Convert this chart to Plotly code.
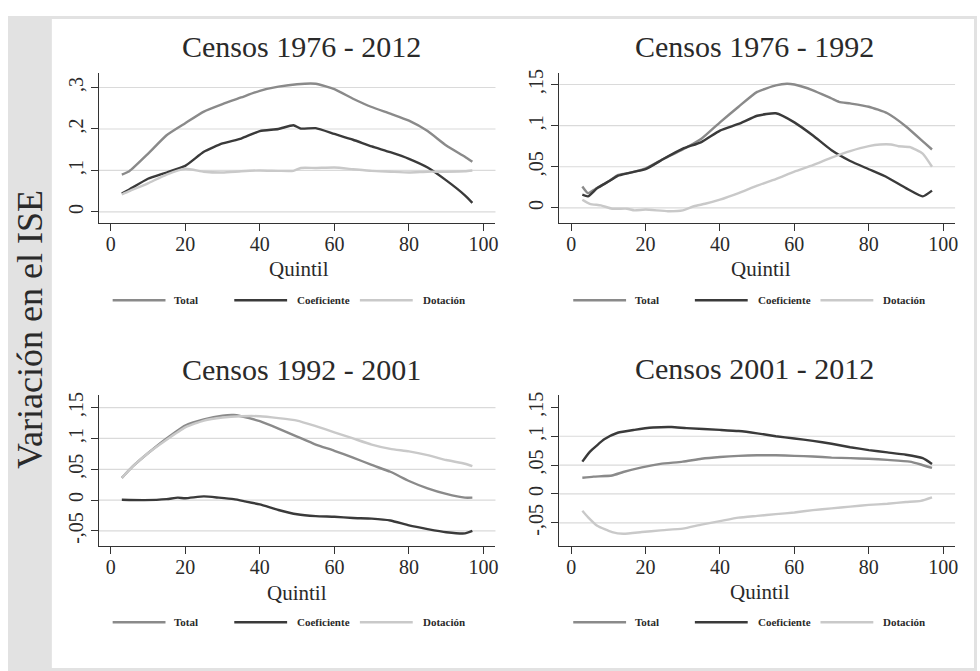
import plotly.graph_objects as go

W, H = 980, 671

# ---------------- data ----------------
panel_titles = ["Censos 1976 - 2012", "Censos 1976 - 1992",
                "Censos 1992 - 2001", "Censos 2001 - 2012"]
series_names = ["Total", "Coeficiente", "Dotación"]
series_colors = ["#8a8a8a", "#3a3a3a", "#c9c9c9"]

x_ticks = [0, 20, 40, 60, 80, 100]

# Censos 1976 - 2012
p1_total_q = [3, 5, 10, 15, 20, 25, 30, 35, 40, 45, 50, 55, 60, 65, 70, 75, 80, 85, 90, 95, 97]
p1_total = [.090, .098, .140, .185, .214, .242, .260, .276, .292, .302, .308, .309, .296,
            .273, .253, .237, .220, .195, .160, .133, .121]
p1_coef_q = [3, 5, 10, 15, 20, 25, 30, 35, 40, 45, 49, 51, 55, 60, 65, 70, 75, 80, 85, 90, 95, 97]
p1_coef = [.044, .054, .080, .095, .111, .145, .165, .177, .195, .200, .209, .201, .202, .188,
           .174, .158, .144, .128, .107, .076, .040, .022]
p1_dot_q = [3, 5, 10, 15, 20, 25, 30, 35, 40, 45, 49, 51, 55, 60, 65, 70, 75, 80, 85, 90, 95, 97]
p1_dot = [.042, .050, .069, .090, .104, .097, .095, .098, .100, .099, .099, .106, .106, .107,
          .103, .099, .097, .095, .097, .097, .098, .100]

# Censos 1976 - 1992
p2_total_q = [3, 4.5, 6.5, 10, 12.5, 15, 20, 25, 30, 35, 40, 45, 50, 55, 58, 60, 65, 70, 72,
              75, 80, 85, 90, 95, 97]
p2_total = [.026, .018, .023, .032, .040, .042, .048, .060, .071, .084, .104, .123, .141, .149,
            .151, .150, .143, .133, .129, .127, .123, .115, .099, .079, .071]
p2_coef_q = [3, 4.5, 7, 10, 12.5, 15, 20, 25, 30, 35, 40, 45, 50, 55, 60, 65, 70, 75, 80, 85,
             90, 94.5, 97]
p2_coef = [.016, .014, .024, .032, .039, .042, .047, .060, .072, .080, .094, .102, .112, .115,
           .104, .088, .070, .057, .047, .037, .024, .014, .021]
p2_dot_q = [3, 5, 8, 11, 15, 17, 20, 26, 30, 33, 36, 40, 45, 50, 55, 60, 65, 70, 75, 80, 83,
            86, 88, 91, 94.5, 97]
p2_dot = [.010, .005, .003, -.001, -.001, -.003, -.002, -.004, -.003, .002, .005, .010, .018,
          .027, .035, .044, .052, .061, .069, .075, .077, .077, .075, .074, .066, .050]

# Censos 1992 - 2001
p3_total_q = [3, 6, 10, 15, 20, 25, 30, 33, 35, 40, 45, 50, 55, 60, 65, 70, 75, 80, 85, 90, 95, 97]
p3_total = [.036, .055, .076, .100, .121, .131, .137, .138, .136, .128, .116, .103, .090, .080,
            .069, .057, .046, .031, .019, .010, .004, .004]
p3_coef_q = [3, 9, 15, 18, 20, 25, 29, 33, 36, 40, 45, 50, 55, 60, 65, 70, 75, 80, 85, 90, 95, 97]
p3_coef = [.0005, 0, .0016, .004, .003, .006, .004, .0015, -.002, -.007, -.016, -.023, -.026,
           -.027, -.029, -.030, -.033, -.041, -.047, -.052, -.054, -.050]
p3_dot_q = [3, 6, 10, 15, 20, 25, 30, 35, 40, 45, 50, 55, 60, 65, 70, 75, 80, 85, 90, 95, 97]
p3_dot = [.036, .055, .076, .098, .118, .129, .134, .136, .136, .133, .129, .120, .110, .100,
          .090, .083, .079, .073, .065, .059, .055]

# Censos 2001 - 2012
p4_total_q = [3, 6, 11, 14, 19, 24, 30, 35, 40, 45, 50, 55, 60, 65, 70, 75, 80, 85, 91, 94, 97]
p4_total = [.028, .030, .032, .038, .046, .052, .056, .061, .064, .066, .067, .067, .066, .065,
            .063, .062, .061, .059, .056, .051, .045]
p4_coef_q = [3, 5, 9, 12.5, 17, 22, 27, 31, 40, 45, 50, 55, 60, 65, 70, 75, 80, 85, 90, 94.5, 97]
p4_coef = [.056, .073, .095, .106, .111, .115, .116, .114, .111, .109, .105, .100, .096, .092,
           .087, .081, .076, .072, .068, .062, .052]
p4_dot_q = [3, 4.5, 7, 11, 14, 19, 24, 30, 35, 40, 45, 50, 55, 60, 65, 70, 75, 80, 85, 90, 94, 97]
p4_dot = [-.029, -.040, -.055, -.066, -.069, -.066, -.063, -.060, -.053, -.047, -.041, -.038,
          -.035, -.032, -.028, -.025, -.022, -.019, -.017, -.014, -.012, -.006]

panel_series = [
    [(p1_total_q, p1_total), (p1_coef_q, p1_coef), (p1_dot_q, p1_dot)],
    [(p2_total_q, p2_total), (p2_coef_q, p2_coef), (p2_dot_q, p2_dot)],
    [(p3_total_q, p3_total), (p3_coef_q, p3_coef), (p3_dot_q, p3_dot)],
    [(p4_total_q, p4_total), (p4_coef_q, p4_coef), (p4_dot_q, p4_dot)],
]

y_tickvals = [
    [0, .1, .2, .3],
    [0, .05, .1, .15],
    [-.05, 0, .05, .1, .15],
    [-.05, 0, .05, .1, .15],
]
y_ticktext = [
    ["0", ",1", ",2", ",3"],
    ["0", ",05", ",1", ",15"],
    ["-,05", "0", ",05", ",1", ",15"],
    ["-,05", "0", ",05", ",1", ",15"],
]
y_gridvals = [
    [0, .1, .2, .3],
    [0, .05, .1, .15],
    [-.05, 0, .05, .1, .15],
    [-.05, 0, .05, .1],
]
y_ranges = [[-0.026, 0.336], [-0.018, 0.1645], [-0.074, 0.171], [-0.0897, 0.172]]
x_range = [-3.2, 103.2]

# ---------------- layout geometry (pixels) ----------------
# plot boxes: (left, right, top, bottom)
boxes = [(99, 497, 69, 220), (561, 958, 69, 220),
         (99, 497, 393, 545), (561, 958, 393, 545)]
title_pos = [(302, 43), (757, 43), (302, 368), (757, 367)]
quintil_pos = [(300, 267), (763, 267), (298, 593), (762, 592)]
legend_y = [298, 298, 622, 622]
# legend sample lines and labels, offsets from the left of each plot box
legend_lines = [(14, 67), (136, 189), (262, 315)]
legend_text_x = [74, 197, 323]

SERIF = "Liberation Serif, Times New Roman, serif"
AXIS_COLOR = "#333333"
TEXT_COLOR = "#2a2a2a"
GRID_COLOR = "#dadada"


def px(x):
    return x / W


def py(y):
    return 1 - y / H


fig = go.Figure()
shapes = []
annotations = []

# frame: grey border strips around a white panel
shapes.append(dict(type="rect", xref="paper", yref="paper", x0=px(8), x1=px(980),
                   y0=py(671), y1=py(12), fillcolor="#e2e2e2", line=dict(width=0),
                   layer="below"))
shapes.append(dict(type="rect", xref="paper", yref="paper", x0=px(52), x1=px(977),
                   y0=py(668), y1=py(15), fillcolor="#ffffff", line=dict(width=0),
                   layer="below"))

layout_axes = {}
for i in range(4):
    n = "" if i == 0 else str(i + 1)
    xa, ya = "x" + n, "y" + n
    left, right, top, bottom = boxes[i]

    layout_axes["xaxis" + n] = dict(
        domain=[px(left), px(right)], range=x_range, anchor=ya,
        tickvals=x_ticks, ticktext=[str(t) for t in x_ticks],
        showline=True, linecolor=AXIS_COLOR, linewidth=1.3,
        ticks="outside", ticklen=7, tickwidth=1.3, tickcolor=AXIS_COLOR,
        ticklabelstandoff=-4,
        showgrid=False, zeroline=False, fixedrange=True,
        tickfont=dict(family=SERIF, size=20, color=TEXT_COLOR),
    )
    layout_axes["yaxis" + n] = dict(
        domain=[py(bottom), py(top)], range=y_ranges[i], anchor=xa,
        tickvals=y_tickvals[i], ticktext=y_ticktext[i], tickangle=-90,
        showline=True, linecolor=AXIS_COLOR, linewidth=1.3,
        ticks="outside", ticklen=7, tickwidth=1.3, tickcolor=AXIS_COLOR,
        showgrid=False, zeroline=False, fixedrange=True,
        tickfont=dict(family=SERIF, size=20, color=TEXT_COLOR),
    )

    for gv in y_gridvals[i]:
        shapes.append(dict(type="line", xref=xa + " domain", x0=0, x1=1, yref=ya,
                           y0=gv, y1=gv, line=dict(color=GRID_COLOR, width=1.2),
                           layer="below"))

    for (q, v), name, color in zip(panel_series[i], series_names, series_colors):
        fig.add_trace(go.Scatter(
            x=q, y=v, mode="lines", name=name, xaxis=xa, yaxis=ya,
            line=dict(color=color, width=2.4, shape="spline", smoothing=0.5),
            showlegend=False, hoverinfo="skip",
        ))

    tx, ty = title_pos[i]
    annotations.append(dict(text=panel_titles[i], x=px(tx), y=py(ty), xref="paper",
                            yref="paper", showarrow=False, xanchor="center",
                            yanchor="middle",
                            font=dict(family=SERIF, size=30, color=TEXT_COLOR)))
    qx, qy = quintil_pos[i]
    annotations.append(dict(text="Quintil", x=px(qx), y=py(qy), xref="paper",
                            yref="paper", showarrow=False, xanchor="center",
                            yanchor="middle",
                            font=dict(family=SERIF, size=21, color=TEXT_COLOR)))

    # legend row
    ly = legend_y[i]
    for (l0, l1), lt, name, color in zip(legend_lines, legend_text_x, series_names,
                                         series_colors):
        shapes.append(dict(type="line", xref="paper", yref="paper",
                           x0=px(left + l0), x1=px(left + l1), y0=py(ly), y1=py(ly),
                           line=dict(color=color, width=2.4)))
        annotations.append(dict(text="<b>" + name + "</b>", x=px(left + lt), y=py(ly),
                                xref="paper", yref="paper", showarrow=False,
                                xanchor="left", yanchor="middle",
                                font=dict(family=SERIF, size=11, color=TEXT_COLOR)))

annotations.append(dict(text="Variación en el ISE", x=px(30), y=py(327), xref="paper",
                        yref="paper", showarrow=False, textangle=-90, xanchor="center",
                        yanchor="middle",
                        font=dict(family=SERIF, size=36, color=TEXT_COLOR)))

fig.update_layout(
    width=W, height=H, margin=dict(l=0, r=0, t=0, b=0),
    paper_bgcolor="#ffffff", plot_bgcolor="rgba(0,0,0,0)",
    shapes=shapes, annotations=annotations, showlegend=False,
    **layout_axes,
)

fig.write_html("out.html", config={"displayModeBar": False})
